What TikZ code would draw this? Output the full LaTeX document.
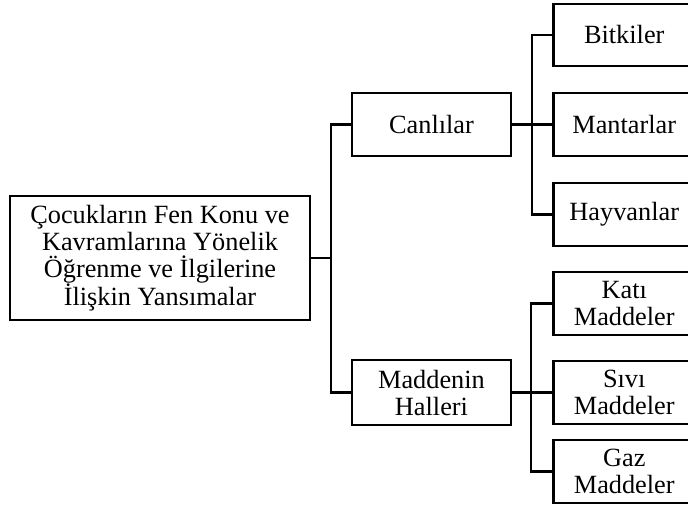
\documentclass[tikz,border=0pt]{standalone}
\usepackage{fontspec}
\setmainfont{Liberation Serif}
\tikzset{
  box/.style={draw, line width=2.5pt, inner sep=0pt, align=center,
    font=\fontsize{26.3}{27}\selectfont},
  link/.style={line width=2.5pt},
}
\begin{document}
\begin{tikzpicture}[x=1pt, y=-1pt]
  \clip (0,0) rectangle (688,509);
  \fill[white] (0,0) rectangle (688,509);

  % root
  \node[box, minimum width=300pt, minimum height=124pt] (root) at (160,258)
    {Çocukların Fen Konu ve\\Kavramlarına Yönelik\\Öğrenme ve İlgilerine\\İlişkin Yansımalar};

  % second level
  \node[box, minimum width=159pt, minimum height=63pt] (can) at (431.5,124.5) {Canlılar};
  \node[box, minimum width=159pt, minimum height=65pt] (mad) at (431.5,392.5) {Maddenin\\Halleri};

  % leaves (running past the right edge)
  \node[box, anchor=west, minimum width=142pt, minimum height=62pt] (bit) at (552,35) {Bitkiler};
  \node[box, anchor=west, minimum width=142pt, minimum height=63pt] (man) at (552,124.5) {Mantarlar};
  \node[box, anchor=west, minimum width=142pt, minimum height=63pt] (hay) at (552,214.5) {Hayvanlar};
  \node[box, anchor=west, minimum width=142pt, minimum height=63pt] (kat) at (552,303.5) {Katı\\Maddeler};
  \node[box, anchor=west, minimum width=142pt, minimum height=63pt] (siv) at (552,392.5) {Sıvı\\Maddeler};
  \node[box, anchor=west, minimum width=142pt, minimum height=63pt] (gaz) at (552,471.5) {Gaz\\Maddeler};

  % junction points
  \coordinate (j1) at (331,258);
  \coordinate (j2) at (532,124.5);
  \coordinate (j3) at (531,392.5);

  % root to second level
  \draw[link] (root.east) -- (j1);
  \draw[link] (can.west) -- (can.west -| j1) -- (mad.west -| j1) -- (mad.west);

  % Canlılar branch
  \draw[link] (can.east) -- (man.west);
  \draw[link] (bit.west) -- (bit.west -| j2) -- (hay.west -| j2) -- (hay.west);

  % Maddenin Halleri branch
  \draw[link] (mad.east) -- (siv.west);
  \draw[link] (kat.west) -- (kat.west -| j3) -- (gaz.west -| j3) -- (gaz.west);
\end{tikzpicture}
\end{document}
